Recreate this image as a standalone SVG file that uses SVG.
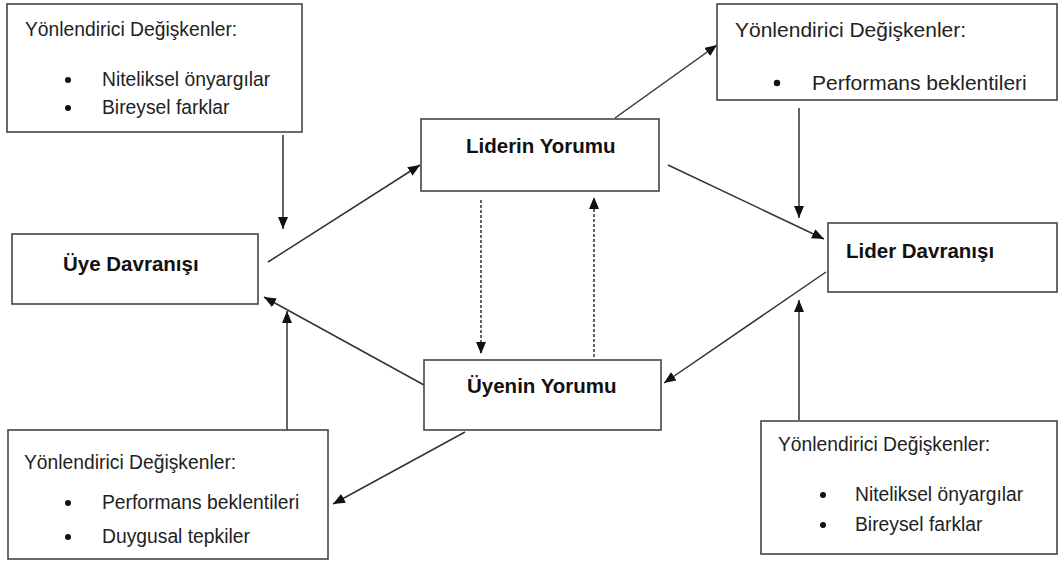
<svg xmlns="http://www.w3.org/2000/svg" width="1059" height="562" viewBox="0 0 1059 562">
<style>
.box{fill:#fff;stroke:#444;stroke-width:1.6}
.t{font-family:"Liberation Sans",Arial,sans-serif;font-size:19.3px;fill:#222}
.tl{font-family:"Liberation Sans",Arial,sans-serif;font-size:21px;fill:#222}
.b{font-family:"Liberation Sans",Arial,sans-serif;font-size:20.5px;font-weight:bold;fill:#111}
.dot{fill:#111}
.c{stroke:#333;stroke-width:1.5;fill:none;marker-end:url(#ah)}
.d{stroke:#333;stroke-width:1.5;fill:none;stroke-dasharray:3 2;marker-end:url(#ah)}
</style>
<defs>
<marker id="ah" viewBox="0 0 12 10" refX="12" refY="5" markerWidth="12" markerHeight="10" markerUnits="userSpaceOnUse" orient="auto">
<path d="M0,0 L12,5 L0,10 z" fill="#111"/>
</marker>
</defs>
<rect width="1059" height="562" fill="#fff"/>
<g id="connectors">
<line class="c" x1="283" y1="135" x2="283" y2="229"/>
<line class="c" x1="268" y1="262" x2="420" y2="165"/>
<line class="c" x1="615" y1="118" x2="717" y2="45"/>
<line class="c" x1="668" y1="165" x2="824" y2="239"/>
<line class="c" x1="799" y1="108" x2="799" y2="218"/>
<line class="c" x1="826" y1="272" x2="664" y2="383"/>
<line class="c" x1="799" y1="420" x2="799" y2="300"/>
<line class="c" x1="424" y1="385" x2="264" y2="297"/>
<line class="c" x1="287" y1="430" x2="287" y2="311"/>
<line class="c" x1="465" y1="432" x2="333" y2="504"/>
<line class="d" x1="481" y1="200" x2="481" y2="354"/>
<line class="d" x1="594" y1="357" x2="594" y2="197"/>
</g>
<g id="mod-top-left">
<rect class="box" x="7" y="4" width="295" height="128"/>
<text class="t" x="25" y="36">Yönlendirici Değişkenler:</text>
<circle class="dot" cx="68" cy="80" r="3"/>
<text class="t" x="102" y="86">Niteliksel önyargılar</text>
<circle class="dot" cx="68" cy="108" r="3"/>
<text class="t" x="102" y="114">Bireysel farklar</text>
</g>
<g id="uye-davranisi">
<rect class="box" x="12" y="234" width="246" height="70"/>
<text class="b" x="63" y="271">Üye Davranışı</text>
</g>
<g id="liderin-yorumu">
<rect class="box" x="421" y="119" width="238" height="72"/>
<text class="b" x="466" y="153">Liderin Yorumu</text>
</g>
<g id="uyenin-yorumu">
<rect class="box" x="424" y="360" width="237" height="70"/>
<text class="b" x="467" y="393">Üyenin Yorumu</text>
</g>
<g id="mod-top-right">
<rect class="box" x="717" y="4" width="340" height="96"/>
<text class="tl" x="735" y="37">Yönlendirici Değişkenler:</text>
<circle class="dot" cx="777" cy="83" r="3.2"/>
<text class="tl" x="812" y="90">Performans beklentileri</text>
</g>
<g id="lider-davranisi">
<rect class="box" x="828" y="223" width="229" height="69"/>
<text class="b" x="846" y="258">Lider Davranışı</text>
</g>
<g id="mod-bottom-left">
<rect class="box" x="8" y="430" width="320" height="129"/>
<text class="t" x="24" y="469">Yönlendirici Değişkenler:</text>
<circle class="dot" cx="68" cy="503" r="3"/>
<text class="t" x="102" y="509">Performans beklentileri</text>
<circle class="dot" cx="68" cy="537" r="3"/>
<text class="t" x="102" y="543">Duygusal tepkiler</text>
</g>
<g id="mod-bottom-right">
<rect class="box" x="761" y="421" width="296" height="133"/>
<text class="t" x="778" y="451">Yönlendirici Değişkenler:</text>
<circle class="dot" cx="823" cy="495" r="3"/>
<text class="t" x="855" y="501">Niteliksel önyargılar</text>
<circle class="dot" cx="823" cy="525" r="3"/>
<text class="t" x="855" y="531">Bireysel farklar</text>
</g>
</svg>
